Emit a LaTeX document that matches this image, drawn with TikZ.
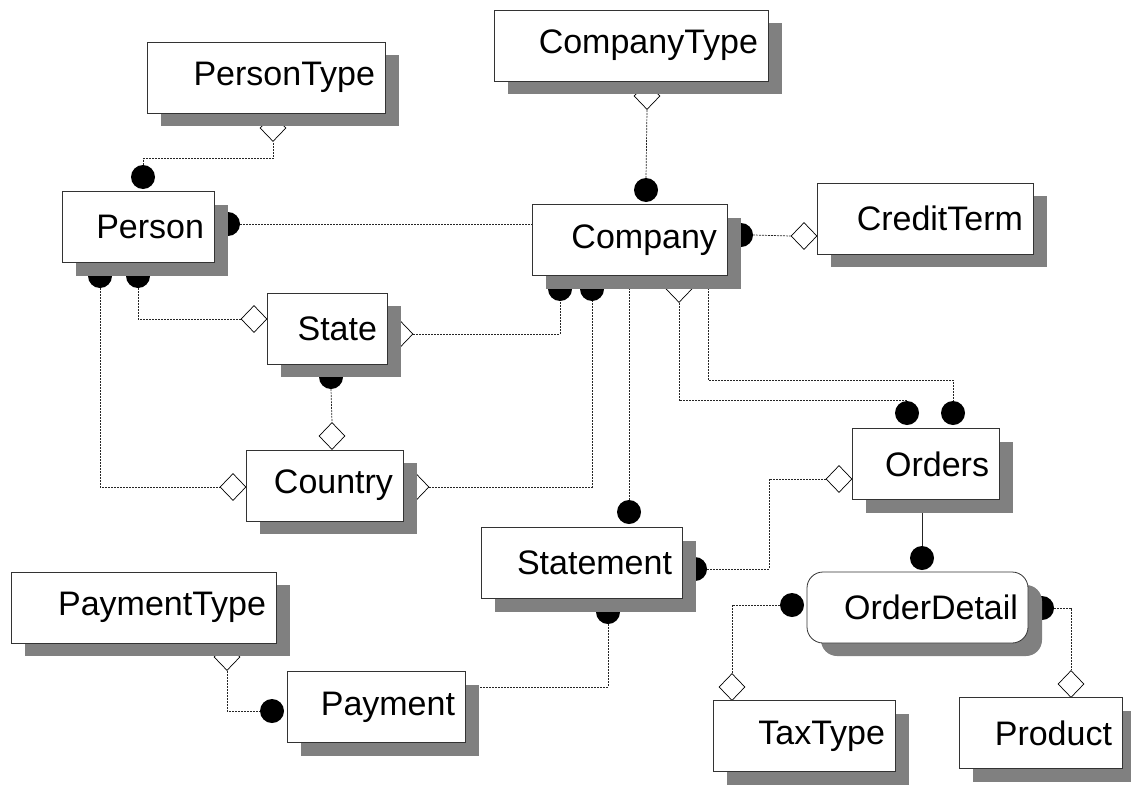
\documentclass[tikz,border=0pt]{standalone}
\usepackage{fontspec}
\setmainfont{Liberation Sans}
\usetikzlibrary{shapes.geometric,shadows}
\pgfdeclarelayer{lines}
\pgfdeclarelayer{marks}
\pgfsetlayers{lines,marks,main}
\tikzset{
  entity/.style={draw=black!80, fill=white, line width=.8pt, minimum height=71pt,
    inner xsep=10pt, inner ysep=0pt, align=right, font=\fontsize{34}{40}\selectfont,
    drop shadow={shadow xshift=14pt, shadow yshift=-13pt, opacity=1, fill=black!50}},
  ball/.style={circle, fill=black, inner sep=0pt, minimum size=24pt},
  dmd/.style={diamond, draw=black, fill=white, line width=.7pt, inner sep=0pt,
    minimum width=26pt, minimum height=27pt},
  rel/.style={line width=.7pt, dash pattern=on 2pt off 1pt, black!85},
}
\begin{document}
\begin{tikzpicture}[x=1pt, y=-1pt]
\useasboundingbox (0,0) rectangle (1131,784);

\node[entity, text width=218pt] (persontype) at (266,77.5) {PersonType};
\node[entity, text width=132pt] (person) at (138,227) {Person};
\node[entity, text width=254pt] (companytype) at (631,45.5) {CompanyType};
\node[entity, text width=175pt] (company) at (629.5,240) {Company};
\node[entity, text width=196pt] (creditterm) at (925,218.5) {CreditTerm};
\node[entity, text width=100pt] (state) at (327,328.5) {State};
\node[entity, text width=137pt] (country) at (324.5,485.5) {Country};
\node[entity, text width=181pt] (statement) at (581.5,563) {Statement};
\node[entity, text width=127pt] (orders) at (925.5,464) {Orders};
\node[entity, text width=201pt, rounded corners=16pt] (orderdetail) at (917.5,607.5) {OrderDetail};
\node[entity, text width=245pt] (paymenttype) at (143.5,607.5) {PaymentType};
\node[entity, text width=158pt] (payment) at (376,707) {Payment};
\node[entity, text width=162pt] (taxtype) at (804,736) {TaxType};
\node[entity, text width=143pt] (product) at (1040.5,733) {Product};

\begin{pgfonlayer}{marks}
\node[ball] (b1) at (143,177) {};
\node[ball] (b2) at (228,224) {};
\node[ball] (b3) at (100,276) {};
\node[ball] (b4) at (138,276) {};
\node[ball] (b5) at (646,190) {};
\node[ball] (b6) at (741,235) {};
\node[ball] (b7) at (560,289) {};
\node[ball] (b8) at (592,289) {};
\node[ball] (b9) at (331,377) {};
\node[ball] (b10) at (629,512) {};
\node[ball] (b11) at (695,569) {};
\node[ball] (b12) at (608,612) {};
\node[ball] (b13) at (907,413) {};
\node[ball] (b14) at (953,413) {};
\node[ball] (b15) at (922,558) {};
\node[ball] (b16) at (792,605) {};
\node[ball] (b17) at (1042,608) {};
\node[ball] (b18) at (272,711) {};

\node[dmd] (d1) at (273,128) {};
\node[dmd] (d2) at (647,96) {};
\node[dmd] (d3) at (804,236) {};
\node[dmd] (d4) at (679,289) {};
\node[dmd] (d5) at (254,319) {};
\node[dmd] (d6) at (400,334) {};
\node[dmd] (d7) at (332,436) {};
\node[dmd] (d8) at (233,487) {};
\node[dmd] (d9) at (416,487) {};
\node[dmd] (d10) at (839,479) {};
\node[dmd] (d11) at (732,687) {};
\node[dmd] (d12) at (1071,684) {};
\node[dmd] (d13) at (227,657) {};
\end{pgfonlayer}

\begin{pgfonlayer}{lines}
\draw[rel] (b1.north) -- ++(0,-6) -| (d1.south);
\draw[rel] (b2.east) -- (b2 -| company.west);
\draw[rel] (b3.south) |- (d8.west);
\draw[rel] (b4.south) |- (d5.west);
\draw[rel] (d6.east) -| (b7.south);
\draw[rel] (d9.east) -| (b8.south);
\draw[rel] (b9.south) -- (d7.north);
\draw[rel] (b5.north) -- (d2.south);
\draw[rel] (b6.east) -- (d3.west);
\draw[rel] (b10.north) -- (b10.north |- company.south);
\draw[rel] (d4.south) |- (b13.north);
\draw[rel] ([xshift=-19pt]company.south east) -- ++(0,104) -| (b14.north);
\draw[rel] (b11.east) -- ++(62,0) |- (d10.west);
\draw[line width=.7pt, black!85] (b15.north) -- (b15.north |- orders.south);
\draw[rel] (b16.west) -| (d11.north);
\draw[rel] (b17.east) -| (d12.north);
\draw[rel] (d13.south) |- (b18.west);
\draw[rel] (b12.south) |- ([yshift=20pt]payment.east);
\end{pgfonlayer}
\end{tikzpicture}
\end{document}
